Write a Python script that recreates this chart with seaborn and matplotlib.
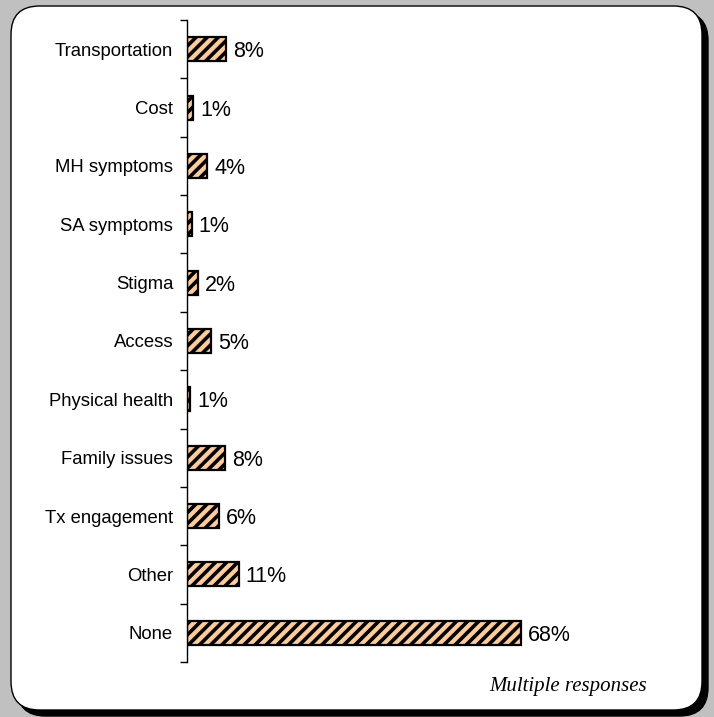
import seaborn as sns
import matplotlib.pyplot as plt
from matplotlib.patches import FancyBboxPatch
from matplotlib.ticker import FixedLocator

# datos
categorias = ['Transportation', 'Cost', 'MH symptoms', 'SA symptoms', 'Stigma', 'Access',
              'Physical health', 'Family issues', 'Tx engagement', 'Other', 'None']
valores = [8.0, 1.3, 4.1, 1.0, 2.2, 4.9, 0.7, 7.8, 6.5, 10.5, 68.0]
etiquetas = ['8%', '1%', '4%', '1%', '2%', '5%', '1%', '8%', '6%', '11%', '68%']
nota = 'Multiple responses'

sns.set_style('white')
plt.rcParams['font.family'] = ['Liberation Sans', 'DejaVu Sans']
plt.rcParams['text.color'] = 'black'
plt.rcParams['ytick.color'] = 'black'
plt.rcParams['ytick.labelcolor'] = 'black'
plt.rcParams['hatch.linewidth'] = 2.6
plt.rcParams['hatch.color'] = 'black'

fig = plt.figure(figsize=(7.14, 7.17), dpi=100, facecolor='#C0C0C0')
W, H = 714, 717

# marco redondeado con sombra
def caja(x0, y0, x1, y1, **kw):
    return FancyBboxPatch((x0 / W, 1 - y1 / H), (x1 - x0) / W, (y1 - y0) / H,
                          boxstyle='round,pad=0,rounding_size=0.04',
                          transform=fig.transFigure, mutation_aspect=W / H, **kw)

fig.patches.append(caja(17, 12, 708, 716, facecolor='black', edgecolor='black', zorder=-3))
fig.patches.append(caja(11, 6, 702, 710, facecolor='white', edgecolor='black', linewidth=1, zorder=-2))

ax = fig.add_axes([187 / W, 1 - 662 / H, 491 / W, 642 / H])
ax.set_facecolor('none')

sns.barplot(x=valores, y=categorias, orient='h', color='#FFCC99', edgecolor='black',
            linewidth=1.6, width=0.41, hatch='///', saturation=1, ax=ax)

for i, (v, t) in enumerate(zip(valores, etiquetas)):
    ax.annotate(t, (v, i), xytext=(5, 0), textcoords='offset points',
                va='center_baseline', ha='left', fontsize=15.5, color='black')

ax.set_xlim(0, 100)
ax.set_ylim(10.5, -0.5)
ax.set_xlabel('')
ax.set_ylabel('')
ax.set_xticks([])
ax.yaxis.set_minor_locator(FixedLocator([i - 0.5 for i in range(12)]))
ax.tick_params(axis='y', which='major', length=0, pad=10, labelsize=13.3, labelcolor='black')
ax.tick_params(axis='y', which='minor', length=5, width=1, color='black', direction='out', left=True)
for s in ['top', 'right', 'bottom']:
    ax.spines[s].set_visible(False)
ax.spines['left'].set_color('black')
ax.spines['left'].set_linewidth(1)

fig.text(647 / W, 1 - 686 / H, nota, ha='right', va='center', fontsize=15,
         style='italic', color='black', family=['Liberation Serif', 'DejaVu Serif'])

plt.savefig('out.png', dpi=100, facecolor=fig.get_facecolor())
